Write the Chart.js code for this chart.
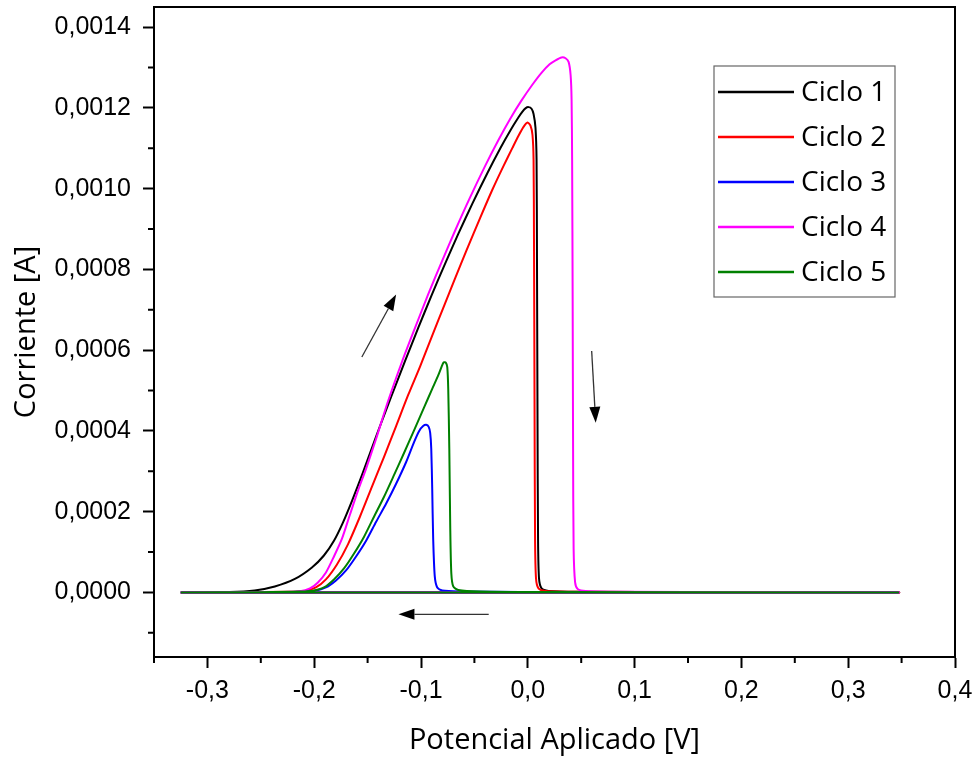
<!DOCTYPE html>
<html lang="es">
<head>
  <meta charset="utf-8">
  <title>Ciclos</title>
  <style>
    html, body { margin: 0; padding: 0; background: #fff; }
    #wrap { width: 976px; height: 762px; }
  </style>
</head>
<body>
<div id="wrap"><canvas id="cvChart" width="976" height="762"></canvas></div>
<script src="https://cdn.jsdelivr.net/npm/chart.js@4.4.1/dist/chart.umd.min.js"></script>
<script>
// potential [V] and current [A], one pair of arrays per cycle
const ciclo1X = [-0.325, -0.2792, -0.2557, -0.2369, -0.2181, -0.2021, -0.1909, -0.1815, -0.1731, -0.1646, -0.1552, -0.1411, -0.1280, -0.1148, -0.1026, -0.0904, -0.0773, -0.0651, -0.0519, -0.0378, -0.0256, -0.0162, -0.0087, -0.0050, -0.0022, 0.0007, 0.0035, 0.0054, 0.0072, 0.0082, 0.0086, 0.0091, 0.0096, 0.0105, 0.0129, 0.0194, 0.0495, 0.1622, 0.345, -0.325];
const ciclo1Y = [0, 0.000001, 0.0000049, 0.0000148, 0.0000333, 0.0000617, 0.0000914, 0.000128, 0.000173, 0.000227, 0.000291, 0.000393, 0.000484, 0.000574, 0.000655, 0.000734, 0.000815, 0.000888, 0.000963, 0.001039, 0.001101, 0.001145, 0.001177, 0.001191, 0.001199, 0.001202, 0.001198, 0.001185, 0.001151, 0.001072, 0.000825, 0.00043, 0.000133, 0.0000346, 0.0000099, 0.0000037, 0.0000017, 0.0000007, 0, 0];

const ciclo2X = [-0.325, -0.2698, -0.2228, -0.2087, -0.1984, -0.1890, -0.1787, -0.1684, -0.1571, -0.1459, -0.1346, -0.1233, -0.1120, -0.1008, -0.0895, -0.0782, -0.0679, -0.0576, -0.0444, -0.0331, -0.0228, -0.0144, -0.0087, -0.0040, -0.0003, 0.0025, 0.0044, 0.0054, 0.0058, 0.0063, 0.0068, 0.0077, 0.0100, 0.0166, 0.0495, 0.1622, 0.345, -0.325];
const ciclo2Y = [0, 0.0000007, 0.0000017, 0.0000037, 0.0000123, 0.0000321, 0.0000691, 0.000119, 0.000188, 0.000262, 0.000336, 0.000412, 0.000489, 0.00056, 0.000636, 0.000711, 0.000779, 0.000846, 0.000929, 0.000998, 0.001056, 0.001101, 0.001131, 0.001153, 0.001164, 0.001156, 0.001133, 0.001072, 0.000874, 0.000479, 0.000133, 0.0000346, 0.0000099, 0.0000037, 0.0000017, 0.0000007, 0, 0];

const ciclo3X = [-0.325, -0.2510, -0.2134, -0.1993, -0.1890, -0.1796, -0.1702, -0.1608, -0.1514, -0.1420, -0.1326, -0.1233, -0.1139, -0.1064, -0.1017, -0.0980, -0.0951, -0.0928, -0.0914, -0.0904, -0.0895, -0.0886, -0.0871, -0.0848, -0.0801, -0.0632, -0.0069, 0.345, -0.325];
const ciclo3Y = [0, 0.0000005, 0.0000017, 0.0000042, 0.0000123, 0.0000296, 0.0000543, 0.0000889, 0.000128, 0.000175, 0.00022, 0.000269, 0.000323, 0.000373, 0.0004, 0.000412, 0.000415, 0.00041, 0.000395, 0.000356, 0.000257, 0.000133, 0.0000395, 0.0000123, 0.0000049, 0.0000025, 0.0000012, 0, 0];

const ciclo4X = [-0.325, -0.2698, -0.2322, -0.2134, -0.2040, -0.1965, -0.1890, -0.1815, -0.1740, -0.1665, -0.1590, -0.1515, -0.1421, -0.1308, -0.1177, -0.1055, -0.0933, -0.0801, -0.0679, -0.0548, -0.0398, -0.0276, -0.0163, -0.0060, 0.0044, 0.0128, 0.0204, 0.0260, 0.0316, 0.0354, 0.0382, 0.0401, 0.0410, 0.0415, 0.0420, 0.0424, 0.0429, 0.0443, 0.0467, 0.0542, 0.0870, 0.2091, 0.345, -0.325];
const ciclo4Y = [0, 0.0000005, 0.0000012, 0.000003, 0.0000099, 0.0000247, 0.0000494, 0.0000889, 0.000133, 0.000193, 0.000252, 0.000306, 0.00038, 0.000474, 0.000572, 0.000656, 0.000738, 0.000822, 0.000897, 0.000974, 0.001057, 0.00112, 0.001174, 0.001218, 0.001258, 0.001287, 0.001308, 0.001318, 0.001325, 0.001323, 0.001314, 0.001281, 0.00122, 0.001072, 0.000726, 0.000356, 0.000109, 0.0000247, 0.0000086, 0.0000037, 0.0000017, 0.0000007, 0, 0];

const ciclo5X = [-0.325, -0.2510, -0.2134, -0.2012, -0.1909, -0.1815, -0.1721, -0.1627, -0.1533, -0.1439, -0.1346, -0.1252, -0.1158, -0.1064, -0.0970, -0.0895, -0.0838, -0.0806, -0.0787, -0.0768, -0.0754, -0.0745, -0.0735, -0.0726, -0.0716, -0.0698, -0.0651, -0.0444, 0.0119, 0.345, -0.325];
const ciclo5Y = [0, 0.0000005, 0.000002, 0.0000042, 0.0000123, 0.0000321, 0.0000593, 0.0000963, 0.000138, 0.000188, 0.000237, 0.000291, 0.000346, 0.000402, 0.000459, 0.000504, 0.000538, 0.00056, 0.00057, 0.000569, 0.000558, 0.000504, 0.000356, 0.000158, 0.0000469, 0.0000148, 0.0000062, 0.0000025, 0.0000012, 0, 0];

const seriesNames = ['Ciclo 1', 'Ciclo 2', 'Ciclo 3', 'Ciclo 4', 'Ciclo 5'];

// scan direction arrows, tail -> tip, in data units
const arrowX = [[-0.1554, -0.1233], [0.0598, 0.0636], [-0.0366, -0.1211]];
const arrowY = [[0.000583, 0.000738], [0.000598, 0.00042], [-0.0000543, -0.0000543]];

const seriesColors = ['#000000', '#ff0000', '#0000ff', '#ff00ff', '#008000'];
const cycleX = [ciclo1X, ciclo2X, ciclo3X, ciclo4X, ciclo5X];
const cycleY = [ciclo1Y, ciclo2Y, ciclo3Y, ciclo4Y, ciclo5Y];

function isMajorX(v) { return Math.abs(Math.round(v * 20)) % 2 === 0; }
function isMajorY(v) { return Math.abs(Math.round(v * 10000)) % 2 === 0; }

const datasets = seriesNames.map(function (name, i) {
  return {
    label: name,
    data: cycleX[i].map(function (x, k) { return { x: x, y: cycleY[i][k] }; }),
    borderColor: seriesColors[i],
    borderWidth: 2,
    pointRadius: 0,
    tension: 0.25,
    fill: false,
    order: seriesNames.length - i
  };
});

const tickFont = { family: "'Liberation Sans', Arial, sans-serif", size: 25 };
const titleFont = { family: "'Open Sans', sans-serif", size: 29 };

const extras = {
  id: 'extras',
  afterDraw(chart) {
    const ctx = chart.ctx;
    const a = chart.chartArea;
    const xs = chart.scales.x, ys = chart.scales.y;
    ctx.save();

    // top and right sides of the frame
    ctx.strokeStyle = '#000';
    ctx.lineWidth = 2;
    ctx.beginPath();
    ctx.moveTo(a.left - 1, a.top);
    ctx.lineTo(a.right, a.top);
    ctx.lineTo(a.right, a.bottom + 1);
    ctx.stroke();

    // minor ticks, half length
    ctx.beginPath();
    xs.ticks.forEach(function (t) {
      if (!isMajorX(t.value)) {
        const px = xs.getPixelForValue(t.value);
        ctx.moveTo(px, a.bottom);
        ctx.lineTo(px, a.bottom + 6);
      }
    });
    ys.ticks.forEach(function (t) {
      if (!isMajorY(t.value)) {
        const py = ys.getPixelForValue(t.value);
        ctx.moveTo(a.left, py);
        ctx.lineTo(a.left - 6, py);
      }
    });
    ctx.stroke();

    // arrows
    for (let i = 0; i < arrowX.length; i++) {
      const x0 = xs.getPixelForValue(arrowX[i][0]), y0 = ys.getPixelForValue(arrowY[i][0]);
      const x1 = xs.getPixelForValue(arrowX[i][1]), y1 = ys.getPixelForValue(arrowY[i][1]);
      const ang = Math.atan2(y1 - y0, x1 - x0);
      const hl = 16, hw = 5.5;
      const bx = x1 - hl * Math.cos(ang), by = y1 - hl * Math.sin(ang);
      ctx.strokeStyle = '#333';
      ctx.lineWidth = 1.3;
      ctx.beginPath();
      ctx.moveTo(x0, y0);
      ctx.lineTo(bx, by);
      ctx.stroke();
      ctx.fillStyle = '#000';
      ctx.beginPath();
      ctx.moveTo(x1, y1);
      ctx.lineTo(bx + hw * Math.sin(ang), by - hw * Math.cos(ang));
      ctx.lineTo(bx - hw * Math.sin(ang), by + hw * Math.cos(ang));
      ctx.closePath();
      ctx.fill();
    }

    // legend box inside the plot
    const lx = a.right - 241, ly = a.top + 59, lw = 181, lh = 231;
    ctx.fillStyle = '#fff';
    ctx.fillRect(lx, ly, lw, lh);
    ctx.strokeStyle = '#666';
    ctx.lineWidth = 1.2;
    ctx.strokeRect(lx, ly, lw, lh);
    ctx.font = "28px 'Open Sans', sans-serif";
    ctx.textBaseline = 'middle';
    ctx.textAlign = 'left';
    chart.data.datasets.forEach(function (ds, i) {
      const ry = ly + 26 + i * 45;
      ctx.strokeStyle = ds.borderColor;
      ctx.lineWidth = 2.5;
      ctx.beginPath();
      ctx.moveTo(lx + 4, ry);
      ctx.lineTo(lx + 80, ry);
      ctx.stroke();
      ctx.fillStyle = '#000';
      ctx.fillText(ds.label, lx + 87, ry + 1);
    });

    ctx.restore();
  }
};

new Chart(document.getElementById('cvChart'), {
  type: 'line',
  data: { datasets: datasets },
  options: {
    responsive: false,
    animation: false,
    layout: { padding: { top: 7, right: 21, left: 0, bottom: 0 } },
    plugins: { legend: { display: false }, tooltip: { enabled: false } },
    scales: {
      x: {
        type: 'linear',
        min: -0.35,
        max: 0.4,
        afterFit: function (scale) { scale.height = 105; scale.paddingLeft = 0; scale.paddingRight = 0; },
        ticks: {
          stepSize: 0.05,
          autoSkip: false,
          maxRotation: 0,
          padding: 8,
          color: '#000',
          font: tickFont,
          callback: function (v) { return isMajorX(v) ? v.toFixed(1).replace('.', ',') : ''; }
        },
        grid: {
          drawOnChartArea: false,
          drawTicks: true,
          tickLength: 11,
          tickWidth: 2,
          tickColor: function (c) { return c.tick && isMajorX(c.tick.value) ? '#000' : 'rgba(0,0,0,0)'; }
        },
        border: { display: true, color: '#000', width: 2 },
        title: { display: true, text: 'Potencial Aplicado [V]', color: '#000', font: titleFont, padding: { top: 0, bottom: 4 } }
      },
      y: {
        type: 'linear',
        min: -0.00016,
        max: 0.00145,
        afterFit: function (scale) { scale.width = 154; scale.paddingTop = 0; scale.paddingBottom = 0; },
        ticks: {
          stepSize: 0.0001,
          includeBounds: false,
          autoSkip: false,
          padding: 12,
          color: '#000',
          font: tickFont,
          callback: function (v) { return isMajorY(v) ? v.toFixed(4).replace('.', ',') : ''; }
        },
        grid: {
          drawOnChartArea: false,
          drawTicks: true,
          tickLength: 11,
          tickWidth: 2,
          tickColor: function (c) { return c.tick && isMajorY(c.tick.value) ? '#000' : 'rgba(0,0,0,0)'; }
        },
        border: { display: true, color: '#000', width: 2 },
        title: { display: true, text: 'Corriente [A]', color: '#000', font: titleFont, padding: { top: 9, bottom: 0 } }
      }
    }
  },
  plugins: [extras]
});
</script>
</body>
</html>
